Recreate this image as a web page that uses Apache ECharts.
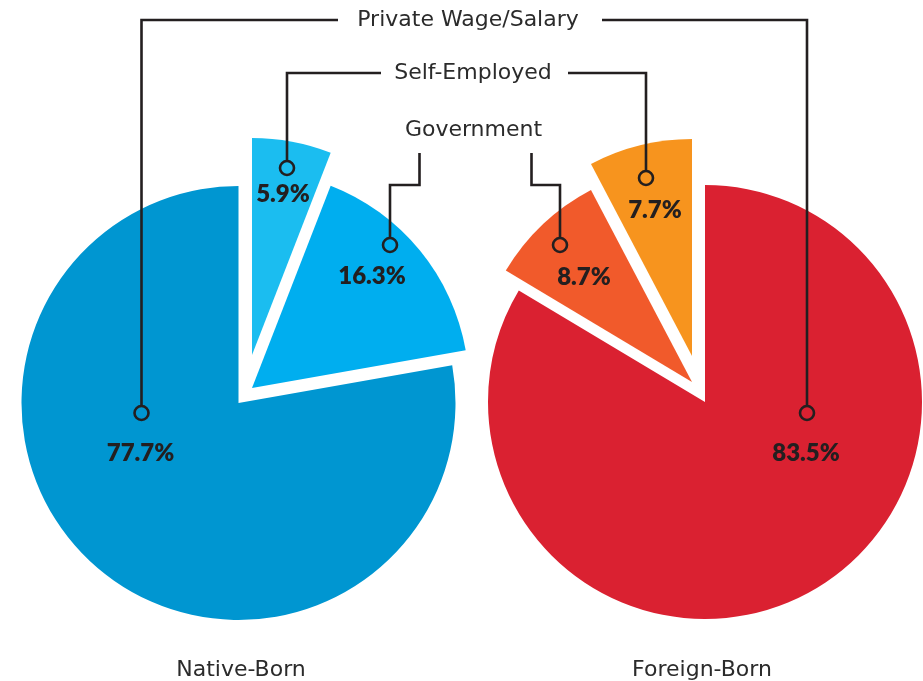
<!DOCTYPE html>
<html>
<head>
<meta charset="utf-8">
<script src="https://cdn.jsdelivr.net/npm/echarts@6/dist/echarts.min.js"></script>
<style>
  html, body { margin: 0; background: #fff; }
  #chart { width: 923px; height: 681px; }
</style>
</head>
<body>
<div id="chart"></div>
<script>
// data
var categories = ['Private Wage/Salary', 'Government', 'Self-Employed']
var groups = ['Native-Born', 'Foreign-Born']
var nativeBorn = [77.7, 16.3, 5.9]
var foreignBorn = [83.5, 8.7, 7.7]

// layout / style
var R = 217
var INK = '#231F20'
var pies = [
  {
    name: groups[0],
    values: nativeBorn,
    center: [238.5, 403],
    order: [2, 1, 0], // clockwise from 12 o'clock
    colors: ['#0096D1', '#00AEEF', '#1BBDF0'],
    shift: [[0, 0], [13.5, -15], [13.5, -48]],
    labelAt: [[-98, 50], [120, -112], [31, -161]],
    markerAt: [[-97, 10], [138, -143], [35, -187]],
    titleX: 241
  },
  {
    name: groups[1],
    values: foreignBorn,
    center: [705, 402],
    order: [0, 1, 2],
    colors: ['#DA2131', '#F15A2B', '#F7941E'],
    shift: [[0, 0], [-13, -20], [-13, -46]],
    labelAt: [[101, 51], [-108, -105], [-37, -146]],
    markerAt: [[102, 11], [-132, -137], [-46, -178]],
    titleX: 702
  }
]

// one pie series per slice so every slice can be pulled out on its own
function sliceSeries(pie, k) {
  return {
    type: 'pie',
    silent: true,
    animation: false,
    radius: R,
    center: [pie.center[0] + pie.shift[k][0], pie.center[1] + pie.shift[k][1]],
    startAngle: 90,
    clockwise: true,
    avoidLabelOverlap: false,
    label: { show: false },
    labelLine: { show: false },
    itemStyle: { borderWidth: 0 },
    data: pie.order.map(function(i) {
      return {
        name: categories[i],
        value: pie.values[i],
        itemStyle: { color: i === k ? pie.colors[i] : 'rgba(0,0,0,0)' }
      }
    })
  }
}

var series = []
var graphic = []
var anchors = {} // marker point per pie and category

pies.forEach(function(pie, p) {
  [0, 1, 2].forEach(function(k) {
    series.push(sliceSeries(pie, k))
    var cx = pie.center[0] + pie.shift[k][0]
    var cy = pie.center[1] + pie.shift[k][1]
    graphic.push({
      type: 'text', z: 100, silent: true,
      x: cx + pie.labelAt[k][0], y: cy + pie.labelAt[k][1],
      style: {
        text: pie.values[k].toFixed(1) + '%',
        font: '800 24px Lato',
        fill: INK, align: 'center', verticalAlign: 'middle'
      }
    })
    anchors[p + '_' + k] = [cx + pie.markerAt[k][0], cy + pie.markerAt[k][1]]
  })
  graphic.push({
    type: 'text', z: 100, silent: true,
    x: pie.titleX, y: 670,
    style: {
      text: pie.name, font: '22px "DejaVu Sans"', fill: '#2b2b2b',
      align: 'center', verticalAlign: 'middle'
    }
  })
})

// category callouts at the top
var rowY = [20, 130, 73]
var textX = [468, 473.5, 473]
var gapEnds = [[338, 602], [null, null], [381, 568]]

function line(points) {
  graphic.push({
    type: 'polyline', z: 99, silent: true,
    shape: { points: points },
    style: { stroke: INK, lineWidth: 2.6, fill: 'none' }
  })
}

categories.forEach(function(name, k) {
  var a = anchors['0_' + k]
  var b = anchors['1_' + k]
  var r = 7
  if (k === 1) {
    // government: short stepped leaders up to the label
    line([[a[0], a[1] - r], [a[0], 185], [419.5, 185], [419.5, 153]])
    line([[b[0], b[1] - r], [b[0], 185], [531.5, 185], [531.5, 153]])
  } else {
    line([[a[0], a[1] - r], [a[0], rowY[k]], [gapEnds[k][0], rowY[k]]])
    line([[b[0], b[1] - r], [b[0], rowY[k]], [gapEnds[k][1], rowY[k]]])
  }
  ;[a, b].forEach(function(pt) {
    graphic.push({
      type: 'circle', z: 100, silent: true,
      shape: { cx: pt[0], cy: pt[1], r: r },
      style: { fill: 'none', stroke: INK, lineWidth: 2.6 }
    })
  })
  graphic.push({
    type: 'text', z: 100, silent: true,
    x: textX[k], y: rowY[k],
    style: {
      text: name, font: '22px "DejaVu Sans"', fill: '#2b2b2b',
      align: 'center', verticalAlign: 'middle'
    }
  })
})

var chart = echarts.init(document.getElementById('chart'))
chart.setOption({
  backgroundColor: '#fff',
  animation: false,
  series: series,
  graphic: graphic
})
</script>
</body>
</html>
